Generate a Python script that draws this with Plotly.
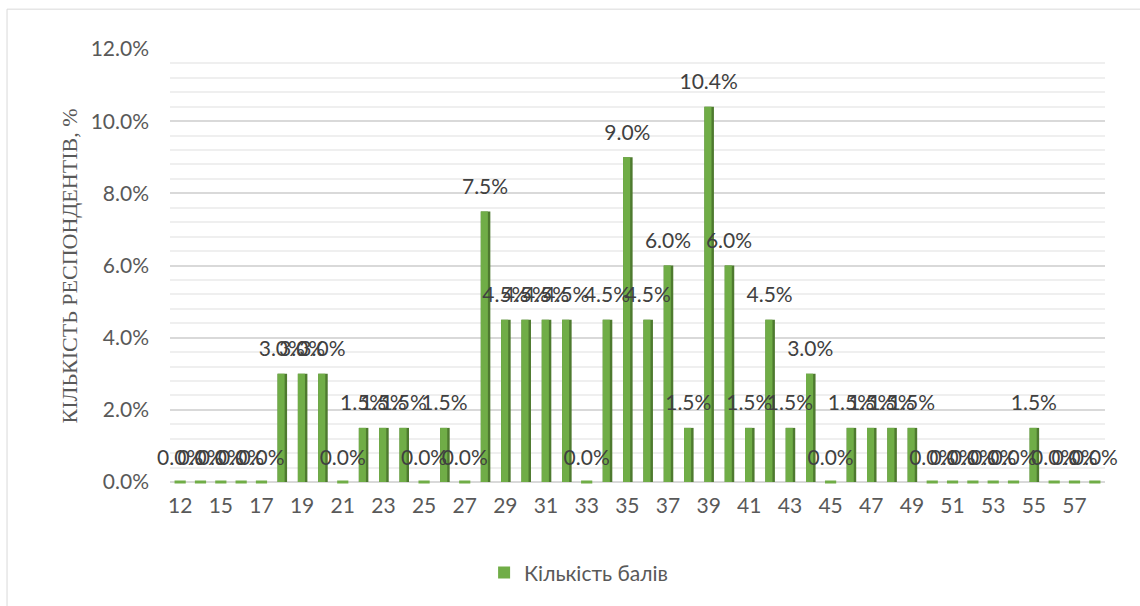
import plotly.graph_objects as go

# ---- data ----
scores = ["12", "14", "15", "16", "17", "18", "19", "20", "21", "22", "23", "24", "25",
          "26", "27", "28", "29", "30", "31", "32", "33", "34", "35", "36", "37", "38",
          "39", "40", "41", "42", "43", "44", "45", "46", "47", "48", "49", "50", "51",
          "52", "53", "54", "55", "56", "57", "58"]
share_pct = [0.0, 0.0, 0.0, 0.0, 0.0, 3.0, 3.0, 3.0, 0.0, 1.5, 1.5, 1.5, 0.0,
             1.5, 0.0, 7.5, 4.5, 4.5, 4.5, 4.5, 0.0, 4.5, 9.0, 4.5, 6.0, 1.5,
             10.4, 6.0, 1.5, 4.5, 1.5, 3.0, 0.0, 1.5, 1.5, 1.5, 1.5, 0.0, 0.0,
             0.0, 0.0, 0.0, 1.5, 0.0, 0.0, 0.0]
x_tick_labels = ["12", "15", "17", "19", "21", "23", "25", "27", "29", "31", "33", "35",
                 "37", "39", "41", "43", "45", "47", "49", "51", "53", "55", "57"]
y_tick_vals = [0.0, 0.02, 0.04, 0.06, 0.08, 0.10, 0.12]
series_name = "Кількість балів"
y_title = "КІЛЬКІСТЬ РЕСПОНДЕНТІВ, %"

values = [v / 100 for v in share_pct]
zero_x = [s for s, v in zip(scores, values) if v == 0]
zero_y = [0 for v in values if v == 0]

FRONT = "#70AD47"
SIDE = "#4E7A2F"
FONT = "Lato"

fig = go.Figure()

# darker side face (pseudo 3D)
fig.add_trace(go.Bar(
    x=scores, y=values, width=0.47, offset=-0.21,
    marker=dict(color=SIDE, line=dict(width=0)),
    showlegend=False, hoverinfo="skip",
))
# front face
fig.add_trace(go.Bar(
    x=scores, y=values, width=0.35, offset=-0.21, name=series_name,
    marker=dict(color=FRONT, line=dict(width=0)),
))
# zero-height bars drawn as flat dashes at baseline
fig.add_trace(go.Scatter(
    x=zero_x, y=zero_y, mode="markers",
    marker=dict(symbol="line-ew", size=8, line=dict(width=3, color=FRONT)),
    showlegend=False, hoverinfo="skip", cliponaxis=False,
))
# data labels
fig.add_trace(go.Scatter(
    x=scores, y=values, mode="markers+text",
    marker=dict(size=18, opacity=0),
    text=[f"{v:.1%}" for v in values], textposition="top center",
    textfont=dict(family=FONT, size=21, color="#404040"),
    showlegend=False, hoverinfo="skip", cliponaxis=False,
))

fig.update_layout(
    width=1140, height=606,
    margin=dict(l=170, r=35, t=49, b=120),
    paper_bgcolor="white", plot_bgcolor="white",
    barmode="overlay",
    font=dict(family=FONT, size=21, color="#595959"),
    showlegend=True,
    legend=dict(orientation="h", x=0.437, y=-0.21, xanchor="center", yanchor="middle",
                font=dict(family=FONT, size=21, color="#595959")),
    xaxis=dict(type="category", categoryorder="array", categoryarray=scores,
               range=[-0.5, len(scores) - 0.5],
               tickmode="array", tickvals=x_tick_labels, ticktext=x_tick_labels,
               showgrid=False, showline=False, ticks="", ticklabelstandoff=9,
               tickfont=dict(family=FONT, size=21, color="#595959")),
    yaxis=dict(range=[0, 0.12], tickmode="array", tickvals=y_tick_vals,
               tickformat=".1%", showgrid=True, gridcolor="#D9D9D9", gridwidth=2,
               minor=dict(dtick=0.004, tick0=0, showgrid=True, gridcolor="#EFEFEF", gridwidth=2),
               zeroline=True, zerolinecolor="#D9D9D9", zerolinewidth=2,
               ticks="", ticklabelstandoff=20,
               tickfont=dict(family=FONT, size=21, color="#595959")),
    annotations=[dict(text=y_title, xref="paper", yref="paper", x=-0.107, y=0.50,
                      textangle=-90, showarrow=False, xanchor="center", yanchor="middle",
                      font=dict(family="Liberation Serif", size=22, color="#595959"))],
    shapes=[dict(type="rect", xref="paper", yref="paper", x0=-0.1743, x1=1.1, y0=-0.35, y1=1.092,
                 line=dict(color="#D9D9D9", width=1), layer="below")],
)

fig.write_html("out.html", config={"displayModeBar": False},
               post_script="document.body.style.margin='0';document.body.style.overflow='hidden';")
